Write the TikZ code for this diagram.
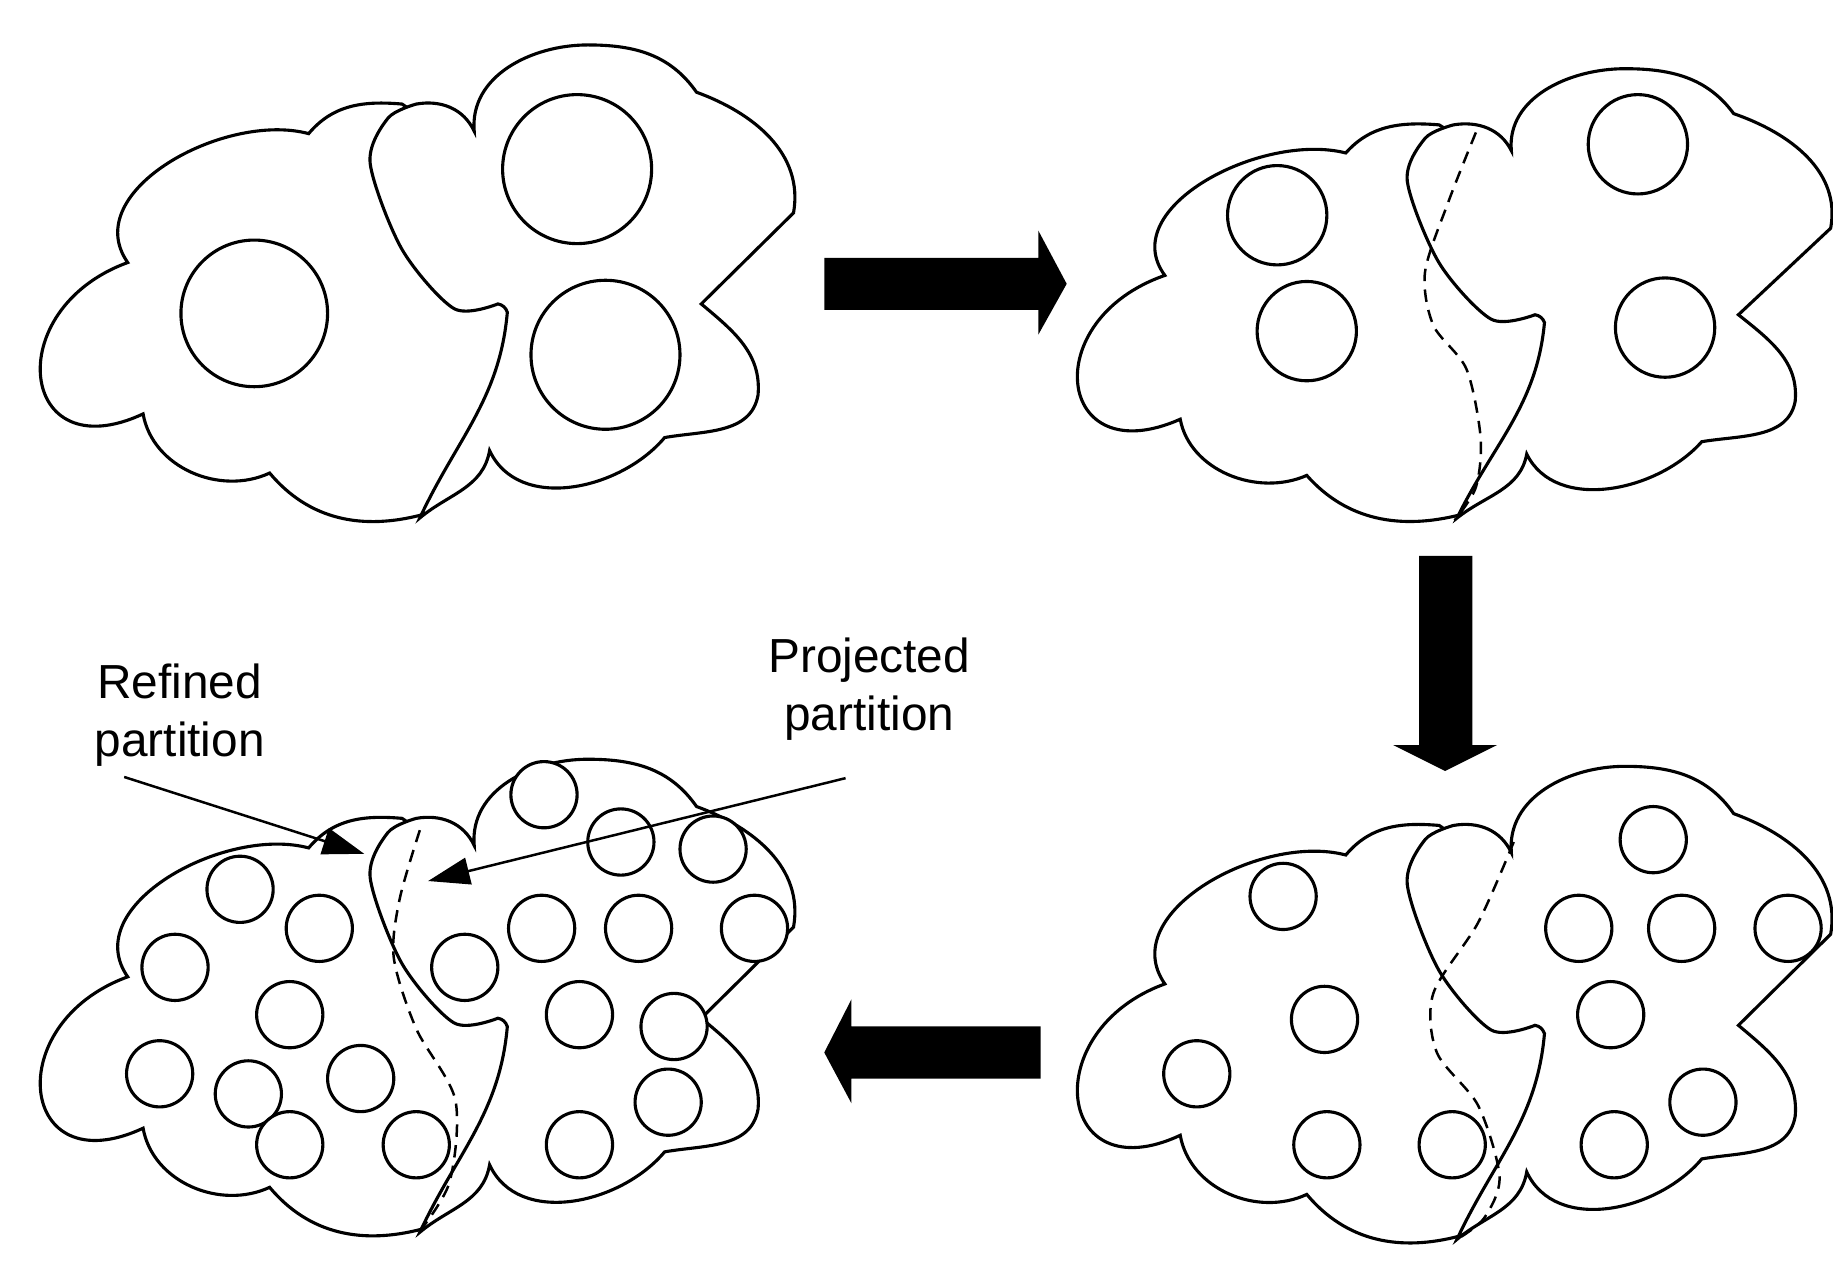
\documentclass[tikz,border=0pt]{standalone}
\usepackage{fontspec}
\setmainfont{Liberation Sans}
\usetikzlibrary{arrows.meta}
\tikzset{
  blob/.style={line width=1.5pt,fill=white},
  grain/.style={line width=1.5pt,fill=white},
  cut/.style={line width=1.2pt,dash pattern=on 6pt off 4pt},
  bigarrow/.style={fill=black},
  lbl/.style={font=\fontsize{23}{28}\selectfont,align=center},
  pointer/.style={line width=1.2pt,-{Triangle[length=20pt,width=13pt]}}
}
% one cloud: left lobe, then right lobe on top
\newcommand\cloudpair{%
  \draw[blob] (358,435) to[out=195,in=-50] (228,400) to[out=205,in=-80] (121,350)
    to[out=205,in=200,looseness=2.3] (108,222) to[out=125,in=165] (261,113) to[out=50,in=175] (340,88)
    -- (430,150) -- (440,300) -- (400,400) -- cycle;
  \draw[blob] (355,438) to[out=65,in=-95] (429,264) to[out=110,in=-10] (421,257)
    -- plot[smooth] coordinates {(421,257) (384,261) (340,211) (313,138) (328,100) (352,88)}
    to[out=10,in=115] (401,111) to[out=95,in=180] (497,38) to[out=0,in=125] (589,78)
    to[out=-20,in=80] (671,180) -- (593,257) to[out=-40,in=85] (641,334)
    to[out=-100,in=10] (562,370) to[out=-130,in=-65] (414,381)
    to[out=-100,in=40] (355,438) -- cycle;
}
\begin{document}
\begin{tikzpicture}[x=0.02cm,y=-0.02cm]
\useasboundingbox (0,0) rectangle (1550,1068);
% first level
\cloudpair
\foreach \cx/\cy/\r in {215/265/62, 488/143/63, 512/300/63}
  \draw[grain] (\cx,\cy) circle (\r);
% second level
\begin{scope}[shift={(877,22)},yscale=0.95]
\cloudpair
\end{scope}
\foreach \cx/\cy in {1080/182, 1105/280, 1385/122, 1408/277}
  \draw[grain] (\cx,\cy) circle (42);
\draw[cut] plot[smooth] coordinates {(1248,112) (1225,170) (1205,230) (1212,275) (1240,312) (1252,370) (1248,412) (1230,440)};
% third level
\begin{scope}[shift={(877,610)}]
\cloudpair
\end{scope}
\foreach \cx/\cy in {1085/758, 1398/710, 1335/785, 1422/785, 1512/785, 1362/858, 1120/862, 1012/908, 1440/932, 1122/968, 1228/968, 1365/968}
  \draw[grain] (\cx,\cy) circle (28);
\draw[cut] plot[smooth] coordinates {(1280,712) (1250,780) (1212,840) (1215,890) (1250,935) (1268,995) (1255,1030) (1232,1048)};
% fourth level
\begin{scope}[shift={(0,604)}]
\cloudpair
\end{scope}
\foreach \cx/\cy in {203/752, 270/785, 148/818, 245/858, 135/908, 210/925, 305/912, 245/968, 352/968, 460/672, 525/712, 603/718, 393/818, 458/785, 540/785, 638/785, 490/858, 570/868, 565/932, 490/968}
  \draw[grain] (\cx,\cy) circle (28);
\draw[cut] plot[smooth] coordinates {(355,702) (338,760) (333,810) (352,870) (385,930) (380,1000) (352,1045)};
% big arrows
\fill[bigarrow] (697,218) -- (878,218) -- (878,195) -- (902,240) -- (878,283) -- (878,262) -- (697,262) -- cycle;
\fill[bigarrow] (1200,470) -- (1245,470) -- (1245,630) -- (1266,630) -- (1222,652) -- (1178,630) -- (1200,630) -- cycle;
\fill[bigarrow] (880,868) -- (720,868) -- (720,845) -- (697,890) -- (720,933) -- (720,912) -- (880,912) -- cycle;
% labels
\node[lbl] (refined) at (152,605) {Refined\\partition};
\node[lbl] (projected) at (735,583) {Projected\\partition};
\coordinate (refinedTip) at (308,722);
\coordinate (projectedTip) at (362,745);
\draw[pointer] (105,657) -- (refinedTip);
\draw[pointer] (715,658) -- (projectedTip);
\end{tikzpicture}
\end{document}
